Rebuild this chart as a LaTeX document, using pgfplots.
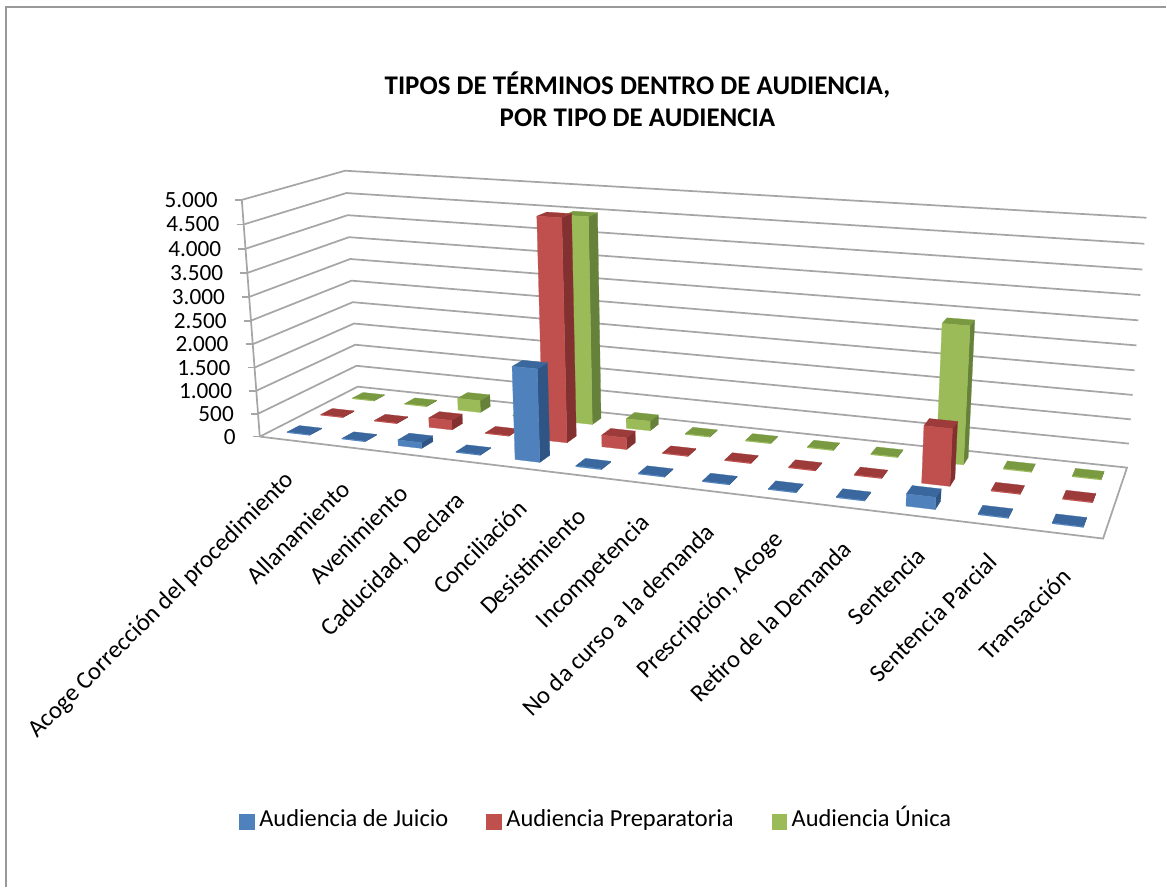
\documentclass[border=0pt]{standalone}
\usepackage{pgfplots}
\usepackage{pgfplotstable}
\usepackage{fontspec}
\setmainfont{Carlito}
\pgfplotsset{compat=1.18}
\definecolor{bluef}{HTML}{4F81BD}\definecolor{bluet}{HTML}{3A689E}\definecolor{blues}{HTML}{2F5585}
\definecolor{redf}{HTML}{C0504D}\definecolor{redt}{HTML}{9C3B39}\definecolor{reds}{HTML}{823130}
\definecolor{greenf}{HTML}{9BBB59}\definecolor{greent}{HTML}{799A41}\definecolor{greens}{HTML}{66823A}
\definecolor{gridc}{HTML}{A6A6A6}
\pgfplotstableread{
cat J P U
0 15 15 15
1 15 15 15
2 125 210 270
3 15 15 15
4 1940 4710 4500
5 20 250 210
6 15 15 15
7 15 15 15
8 15 15 15
9 15 15 15
10 240 1160 2850
11 15 15 15
12 15 15 15
}\data
\newcommand\XY[3]{%
 \pgfmathsetmacro\hh{(#3)/5000}%
 \pgfmathsetmacro\uu{#1}\pgfmathsetmacro\vv{#2}%
 \pgfmathsetmacro\ww{1-0.17974*\uu+0.10171*\vv-0.0397*\hh}%
 \pgfmathsetmacro\rx{(645.57*\uu+134.41*\vv+260-27.6*\hh)/\ww+14*\uu*(1-\uu)}%
 \pgfmathsetmacro\ry{(5.12*\uu-10.64*\vv+437-244.9*\hh+5.7*\uu*\hh)/\ww}%
 \edef\pp{(\rx,\ry)}}
\newcommand\gridline[1]{%
 \XY{0}{0}{#1}\edef\a{\pp}\XY{0}{1}{#1}\edef\b{\pp}\XY{1}{1}{#1}\edef\c{\pp}%
 \edef\tmp{\noexpand\addplot[gridc,line width=1.3bp,forget plot] coordinates {\a\b\c};}\tmp}
\newcommand\face[5]{% colour, 4 points
 \edef\tmp{\noexpand\addplot[draw=#1,line width=0.2bp,fill=#1,forget plot] coordinates {#2#3#4#5#2};}\tmp}
\newcommand\onebar[4]{% cat, v, value, colour stem
 \pgfmathsetmacro\ul{(#1+0.5)/13-0.0158}\pgfmathsetmacro\ur{(#1+0.5)/13+0.0158}%
 \pgfmathsetmacro\vf{#2-0.06}\pgfmathsetmacro\vb{#2+0.06}%
 \XY{\ul}{\vf}{0}\edef\fa{\pp}\XY{\ur}{\vf}{0}\edef\fb{\pp}\XY{\ur}{\vb}{0}\edef\fc{\pp}%
 \XY{\ul}{\vf}{#3}\edef\ta{\pp}\XY{\ur}{\vf}{#3}\edef\tb{\pp}\XY{\ur}{\vb}{#3}\edef\tc{\pp}\XY{\ul}{\vb}{#3}\edef\td{\pp}%
 \face{#4s}{\fb}{\fc}{\tc}{\tb}%
 \face{#4t}{\ta}{\tb}{\tc}{\td}%
 \face{#4f}{\fa}{\fb}{\tb}{\ta}}
\newcommand\ytick[2]{%
 \XY{0}{0}{#1}%
 \pgfmathsetmacro\tx{\rx-7}\pgfmathsetmacro\lx{\rx-24}%
 \edef\tmp{\noexpand\addplot[gridc,line width=1.3bp,forget plot] coordinates {(\tx,\ry)(\rx,\ry)};
 \noexpand\node[ylab] at (axis cs:\lx,\ry) {#2};}\tmp}
\newcommand\catlab[3]{\node[clab] at (axis cs:#1,#2) {#3};}
\tikzset{
 ylab/.style={anchor=east,inner sep=0pt,font=\fontsize{17.5}{20}\selectfont},
 clab/.style={anchor=east,rotate=45,inner sep=0pt,font=\fontsize{18.6}{22}\selectfont}}
\begin{document}
\begin{tikzpicture}
\begin{axis}[
 scale only axis,width=875.25bp,height=666bp,
 xmin=0,xmax=1167,ymin=0,ymax=888,y dir=reverse,
 axis line style={draw=none},ticks=none,clip=false,
 legend style={at={(axis cs:598,822)},anchor=center,draw=none,fill=none,
  legend columns=3,font=\fontsize{18.4}{22}\selectfont,
  nodes={text height=12bp,text depth=3.5bp,inner xsep=3.5bp},
  /tikz/every even column/.append style={column sep=25bp}},
 legend image code/.code={\fill[#1] (0bp,-5.6bp) rectangle (11.2bp,5.6bp);},
]
\addlegendimage{bluef}\addlegendentry{Audiencia de Juicio}
\addlegendimage{redf}\addlegendentry{Audiencia Preparatoria}
\addlegendimage{greenf}\addlegendentry{Audiencia Única}
% chart frame
\addplot[color=gray!80,line width=1.5bp,forget plot] coordinates {(6.5,888)(6.5,7.5)(1167,7.5)};
% walls and floor
\pgfplotsforeachungrouped \g in {500,1000,...,5000}{\gridline{\g}}
\XY{0}{1}{0}\edef\a{\pp}\XY{1}{1}{0}\edef\b{\pp}\XY{1}{0}{0}\edef\c{\pp}\XY{0}{0}{0}\edef\d{\pp}
\edef\tmp{\noexpand\addplot[gridc,line width=1.3bp,forget plot] coordinates {\d\a\b\c\d};}\tmp
\XY{0}{0}{0}\edef\a{\pp}\XY{0}{0}{5000}\edef\b{\pp}
\edef\tmp{\noexpand\addplot[gridc,line width=1.3bp,forget plot] coordinates {\a\b};}\tmp
\ytick{0}{0}\ytick{500}{500}\ytick{1000}{1.000}\ytick{1500}{1.500}\ytick{2000}{2.000}\ytick{2500}{2.500}
\ytick{3000}{3.000}\ytick{3500}{3.500}\ytick{4000}{4.000}\ytick{4500}{4.500}\ytick{5000}{5.000}
% bars, back row first
\pgfplotsforeachungrouped \i in {0,...,12}{%
 \pgfplotstablegetelem{\i}{U}\of\data\onebar{\i}{0.8333}{\pgfplotsretval}{green}}
\pgfplotsforeachungrouped \i in {0,...,12}{%
 \pgfplotstablegetelem{\i}{P}\of\data\onebar{\i}{0.5}{\pgfplotsretval}{red}}
\pgfplotsforeachungrouped \i in {0,...,12}{%
 \pgfplotstablegetelem{\i}{J}\of\data\onebar{\i}{0.1667}{\pgfplotsretval}{blue}}
% titles
\node[align=center,font=\fontsize{20.3}{24}\selectfont\bfseries] at (axis cs:638,99) {TIPOS DE TÉRMINOS DENTRO DE AUDIENCIA,\\POR TIPO DE AUDIENCIA};
% category labels
\catlab{291}{477}{Acoge Corrección del procedimiento}
\catlab{346}{485}{Allanamiento}
\catlab{404}{490}{Avenimiento}
\catlab{462}{497}{Caducidad, Declara}
\catlab{523}{505}{Conciliación}
\catlab{582}{513}{Desistimiento}
\catlab{647}{520}{Incompetencia}
\catlab{711}{528}{No da curso a la demanda}
\catlab{781}{537}{Prescripción, Acoge}
\catlab{848}{545}{Retiro de la Demanda}
\catlab{922}{552}{Sentencia}
\catlab{994}{558}{Sentencia Parcial}
\catlab{1068}{573}{Transacción}
\end{axis}
\end{tikzpicture}
\end{document}
